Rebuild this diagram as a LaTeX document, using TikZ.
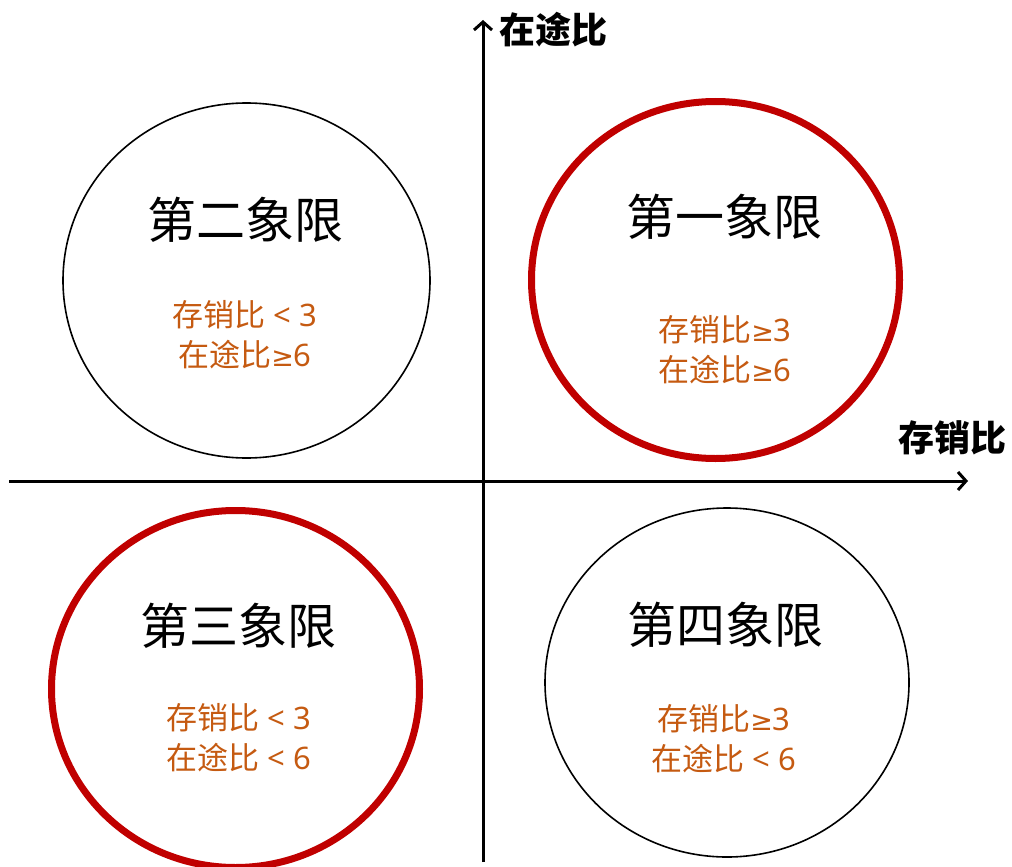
\documentclass[tikz,border=0pt]{standalone}
\usepackage{fontspec}
\newfontfamily\cjk{Noto Sans CJK SC}
\newfontfamily\lat{Noto Sans}
\newfontfamily\sym{DejaVu Sans}
\usetikzlibrary{shapes.geometric,arrows.meta}
\definecolor{qred}{HTML}{C00000}
\definecolor{qorange}{HTML}{C55A11}
\newcommand{\qge}[1]{{\sym\fontsize{27}{40}\selectfont ≥}{\lat #1}}
\newcommand{\qlt}[1]{{\lat\ <\ #1}}
\begin{document}
\begin{tikzpicture}[x=1pt,y=-1pt,
  quad/.style={ellipse,inner sep=0pt,draw=black,line width=1.6pt},
  hot/.style={draw=qred,line width=7pt},
  qtitle/.style={font=\cjk\fontsize{49}{58}\selectfont,text=black,inner sep=0pt},
  cond/.style={font=\cjk\fontsize{31}{40}\selectfont,text=qorange,align=center,inner sep=0pt},
  axlab/.style={font=\cjk\bfseries\fontsize{36}{42}\selectfont,inner sep=0pt},
  axisline/.style={line width=3pt,-{Straight Barb[length=8pt,width=18pt,line width=3pt]}}]
\useasboundingbox (0,0) rectangle (1012,867);
% circles
\node[quad,hot,minimum width=368pt,minimum height=357pt] (q1) at (715.5,280) {};
\node[quad,minimum width=367pt,minimum height=355pt] (q2) at (246.5,280.5) {};
\node[quad,hot,minimum width=368pt,minimum height=357pt] (q3) at (235.5,689) {};
\node[quad,minimum width=364pt,minimum height=349pt] (q4) at (727,682.5) {};
% titles
\node[qtitle] (t1) at (724,217) {第一象限};
\node[qtitle] (t2) at (245,220) {第二象限};
\node[qtitle] (t3) at (238,626) {第三象限};
\node[qtitle] (t4) at (725,625) {第四象限};
% conditions
\node[cond] (c1) at (725,350) {存销比\qge{3}\\在途比\qge{6}};
\node[cond] (c2) at (245,335) {存销比\qlt{3}\\在途比\qge{6}};
\node[cond] (c3) at (239,738) {存销比\qlt{3}\\在途比\qlt{6}};
\node[cond] (c4) at (724,739) {存销比\qge{3}\\在途比\qlt{6}};
% axes
\coordinate (xs) at (9,481);
\coordinate (xe) at (968,481);
\coordinate (ys) at (483,862);
\coordinate (ye) at (483,20);
\draw[axisline] (xs) -- (xe);
\draw[axisline] (ys) -- (ye);
\node[axlab] (ly) at (553,30) {在途比};
\node[axlab] (lx) at (952,438) {存销比};
\end{tikzpicture}
\end{document}
